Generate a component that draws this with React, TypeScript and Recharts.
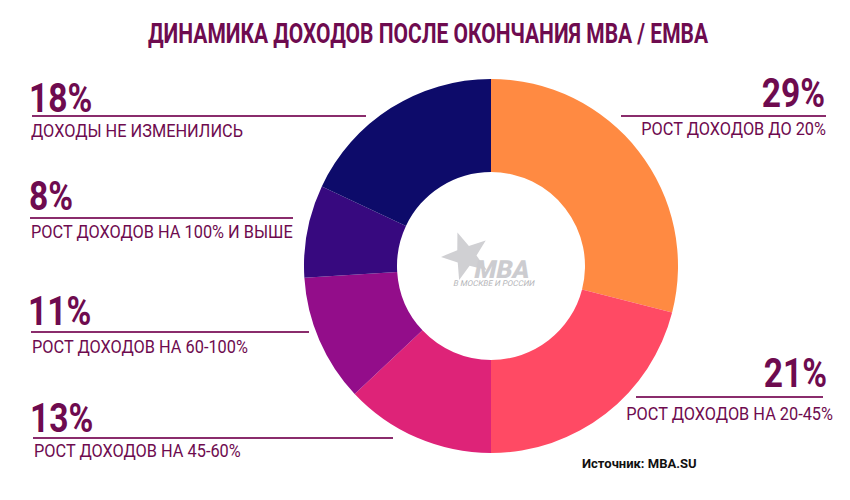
import { PieChart, Pie, Cell } from "recharts";

const segments = ["Рост доходов до 20%", "Рост доходов на 20-45%", "Рост доходов на 45-60%", "Рост доходов на 60-100%", "Рост доходов на 100% и выше", "Доходы не изменились"];
const shares = [29, 21, 13, 11, 8, 18];
const colors = ["#FF8A42", "#FF4A64", "#DE2378", "#930D8A", "#37097F", "#0D0B6A"];

const data = segments.map((name, i) => ({ name, value: shares[i] }));

const TEXT = "#6E0B4F";
const LINE = "#8A2C6C";
const FONT = "Roboto, sans-serif";

// label placement around the donut
type Lbl = { idx: number; side: "L" | "R"; x: number; big: number; line: [number, number, number]; sx: number; small: number };
const labels: Lbl[] = [
  { idx: 5, side: "L", x: 29, big: 112, line: [32, 366, 116], sx: 31, small: 137 },
  { idx: 4, side: "L", x: 29, big: 210, line: [30, 293, 218], sx: 31, small: 238 },
  { idx: 3, side: "L", x: 28, big: 325, line: [31, 309, 332], sx: 32, small: 353 },
  { idx: 2, side: "L", x: 30, big: 432, line: [33, 393, 438], sx: 34, small: 457 },
  { idx: 0, side: "R", x: 825, big: 107, line: [621, 826, 116], sx: 826, small: 135 },
  { idx: 1, side: "R", x: 827, big: 387, line: [636, 823, 397], sx: 833, small: 420 },
];

function starPoints(cx: number, cy: number, r: number, rot: number) {
  const pts: string[] = [];
  for (let i = 0; i < 10; i++) {
    const rr = i % 2 === 0 ? r : r * 0.42;
    const a = rot + (i * Math.PI) / 5;
    pts.push(`${cx + rr * Math.sin(a)},${cy - rr * Math.cos(a)}`);
  }
  return pts.join(" ");
}

export default function App() {
  return (
    <div style={{ position: "relative", width: 850, height: 500, margin: -8, background: "#fff" }}>
      <div style={{ position: "absolute", left: 0, top: 0 }}>
        <PieChart width={850} height={500} margin={{ top: 0, right: 0, bottom: 0, left: 0 }}>
          <Pie
            data={data}
            dataKey="value"
            nameKey="name"
            cx={491}
            cy={266}
            innerRadius={94}
            outerRadius={187}
            startAngle={90}
            endAngle={-270}
            stroke="none"
            isAnimationActive={false}
          >
            {data.map((d, i) => (
              <Cell key={d.name} fill={colors[i]} />
            ))}
          </Pie>
        </PieChart>
      </div>
      <svg width={850} height={500} style={{ position: "absolute", left: 0, top: 0 }}>
        <text transform="translate(428,43) scale(0.75,1)" textAnchor="middle" fontFamily={FONT} fontWeight={700} fontSize={28} fill={TEXT}>
          ДИНАМИКА ДОХОДОВ ПОСЛЕ ОКОНЧАНИЯ MBA / EMBA
        </text>
        {labels.map((l) => (
          <g key={l.idx}>
            <text transform={`translate(${l.x},${l.big}) scale(0.84,1)`} textAnchor={l.side === "L" ? "start" : "end"} fontFamily={FONT} fontWeight={700} fontSize={40} fill={TEXT}>
              {shares[l.idx]}%
            </text>
            <line x1={l.line[0]} x2={l.line[1]} y1={l.line[2]} y2={l.line[2]} stroke={LINE} strokeWidth={2} />
            <text transform={`translate(${l.sx},${l.small}) scale(0.86,1)`} textAnchor={l.side === "L" ? "start" : "end"} fontFamily={FONT} fontSize={19} fill={TEXT}>
              {segments[l.idx].toUpperCase()}
            </text>
          </g>
        ))}
        <text x={582} y={468} fontFamily={FONT} fontWeight={700} fontSize={13} fill="#111">
          Источник: MBA.SU
        </text>
        <g opacity={0.85}>
          <polygon points={starPoints(466, 256, 25, -0.35)} fill="#C8C8CC" />
          <text transform="translate(473,278) skewX(-12)" fontFamily={FONT} fontWeight={900} fontSize={25} fill="#C4C4C8">
            MBA
          </text>
          <text transform="translate(453,286) skewX(-12)" fontFamily={FONT} fontSize={8} fill="#A8A8AC">
            В МОСКВЕ И РОССИИ
          </text>
        </g>
      </svg>
    </div>
  );
}
